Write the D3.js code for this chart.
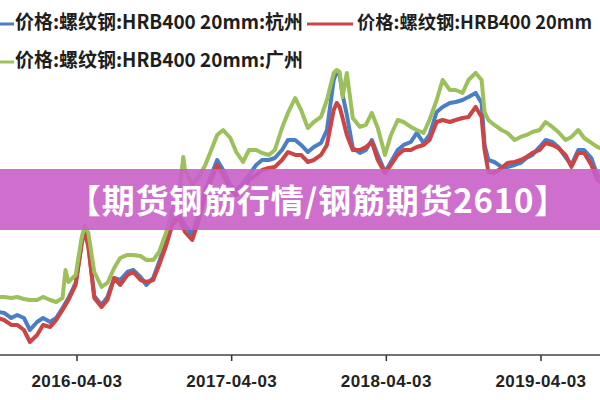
<!DOCTYPE html>
<html><head><meta charset="utf-8">
<script src="https://cdn.jsdelivr.net/npm/d3@7"></script>
<style>
html,body{margin:0;padding:0;background:#fff;}
svg{display:block;}
</style>
</head><body>
<div id="chart"></div>
<script>
// ---- data ----
const dates = ["2015-10-01","2015-10-15","2015-11-01","2015-11-15","2015-12-01","2015-12-15","2016-01-01","2016-01-15","2016-02-01","2016-02-15",
"2016-03-01","2016-03-08","2016-03-15","2016-04-01","2016-04-15","2016-04-22","2016-05-01","2016-05-15","2016-06-01","2016-06-15",
"2016-07-01","2016-07-15","2016-08-01","2016-08-15","2016-09-01","2016-09-15","2016-10-01","2016-10-15","2016-11-01","2016-11-15",
"2016-12-01","2016-12-11","2016-12-15","2017-01-01","2017-01-15","2017-02-01","2017-02-15","2017-03-01","2017-03-15","2017-04-01",
"2017-04-15","2017-05-01","2017-05-15","2017-06-01","2017-06-15","2017-07-01","2017-07-15","2017-08-01","2017-08-15","2017-09-01",
"2017-09-15","2017-10-01","2017-10-15","2017-11-01","2017-11-15","2017-12-01","2017-12-08","2017-12-15","2017-12-22","2018-01-01",
"2018-01-15","2018-02-01","2018-02-15","2018-03-01","2018-03-15","2018-04-01","2018-04-15","2018-05-01","2018-05-15","2018-06-01",
"2018-06-15","2018-07-01","2018-07-15","2018-08-01","2018-08-15","2018-09-01","2018-09-15","2018-10-01","2018-10-15","2018-11-01",
"2018-11-15","2018-11-22","2018-12-01","2018-12-15","2019-01-01","2019-01-15","2019-02-01","2019-02-15","2019-03-01","2019-03-15",
"2019-04-01","2019-04-15","2019-05-01","2019-05-15","2019-06-01","2019-06-15","2019-07-01","2019-07-15","2019-08-01","2019-08-15","2019-09-01"];

// 价格:螺纹钢:HRB400 20mm:杭州
const hangzhou = [2100,2088,2025,2063,2025,1875,1975,2025,1975,2025,
2150,2213,2275,2463,2963,3150,2938,2300,2188,2288,
2525,2500,2600,2625,2538,2438,2525,2725,3000,3250,
3313,3225,3188,3063,3313,3625,3813,4000,3875,3688,
3625,3713,3813,3938,4000,4000,4025,4125,4250,4250,
4188,4100,4163,4213,4375,5000,5100,5063,4813,4563,
4150,4088,4125,4250,4063,3850,3975,4125,4188,4225,
4338,4213,4313,4600,4663,4713,4725,4750,4788,4838,
4713,4188,4000,3975,3913,3913,3938,3963,4025,4063,
4163,4250,4225,4163,4038,3938,4125,4125,4025,3813,3750];

// 价格:螺纹钢:HRB400 20mm (red series)
const redSeries = [2025,2000,1938,1938,1875,1725,1813,1938,1913,2000,
2125,2188,2250,2438,2938,3125,2913,2275,2163,2250,
2525,2438,2563,2600,2500,2475,2500,2688,2938,3188,
3275,3150,3100,3000,3225,3563,3750,3938,3813,3625,
3563,3625,3750,3813,3875,3900,3913,4000,4100,4063,
4063,3975,4000,4063,4188,4625,4713,4663,4525,4313,
4125,4125,4163,4225,4000,3838,3938,4063,4125,4125,
4163,4188,4250,4475,4500,4475,4500,4525,4538,4663,
4538,4125,3850,3838,3900,3963,3975,4000,4038,4088,
4125,4213,4188,4150,4063,3913,4088,4088,3938,3750,3688];

// 价格:螺纹钢:HRB400 20mm:广州
const guangzhou = [2288,2288,2275,2288,2263,2250,2250,2288,2250,2225,
2275,2625,2475,2563,3025,3175,3088,2600,2413,2463,
2650,2775,2813,2813,2800,2750,2750,2850,3100,3375,
3563,4038,3875,3688,3775,3938,4125,4313,4375,4275,
4100,3975,4125,4125,4088,4063,4125,4400,4588,4775,
4625,4400,4475,4538,4750,5088,5125,5100,4788,5088,
4525,4413,4438,4588,4400,4063,4313,4500,4475,4413,
4375,4338,4500,4750,5000,4875,4875,4838,5000,5088,
5000,4600,4500,4438,4375,4338,4250,4288,4313,4350,
4375,4475,4413,4350,4250,4288,4375,4275,4213,4163,4125];

const tickLabels = ["2016-04-03","2017-04-03","2018-04-03","2019-04-03"];
const legendNames = ["价格:螺纹钢:HRB400 20mm:杭州","价格:螺纹钢:HRB400 20mm","价格:螺纹钢:HRB400 20mm:广州"];
const bannerText = "【期货钢筋行情/钢筋期货2610】";

// ---- drawing ----
const W = 600, H = 400;
const parse = d3.timeParse("%Y-%m-%d");
const svg = d3.select("#chart").append("svg").attr("width", W).attr("height", H);

const x = d3.scaleTime()
  .domain([parse(tickLabels[0]), parse(tickLabels[3])])
  .range([76.5, 540.5]);
const y = d3.scaleLinear().domain([1500, 5500]).range([360, 40]);

const colors = ["#4a7ec6", "#cc4444", "#9cc05a"];
const seriesList = [hangzhou, redSeries, guangzhou];

// axis
svg.append("line").attr("x1", 0).attr("x2", W).attr("y1", 355).attr("y2", 355)
  .attr("stroke", "#444").attr("stroke-width", 1.5);
const axis = d3.axisBottom(x)
  .tickValues(tickLabels.map(parse))
  .tickSize(6).tickPadding(10)
  .tickFormat(d3.timeFormat("%Y-%m-%d"));
const gx = svg.append("g").attr("transform", "translate(0,355)").call(axis);
gx.select(".domain").remove();
gx.selectAll(".tick line").attr("stroke", "#333").attr("stroke-width", 1.5);
gx.selectAll(".tick text")
  .attr("y", 32).attr("dy", 0)
  .attr("fill", "#222")
  .style("font-family", "'Liberation Sans', Arial, sans-serif")
  .style("font-weight", "bold").style("font-size", "17px")
  .style("letter-spacing", "0.4px");

// lines
const line = d3.line()
  .x((d, i) => x(parse(dates[i])))
  .y(d => y(d))
  .curve(d3.curveLinear);
const gLines = svg.append("g");
seriesList.forEach((s, k) => {
  gLines.append("path").datum(s)
    .attr("d", line)
    .attr("fill", "none")
    .attr("stroke", colors[k])
    .attr("stroke-width", 4)
    .attr("stroke-linejoin", "round");
});

// legend
const legendFont = "'Noto Sans CJK SC', 'Noto Sans', sans-serif";
const legendItems = [
  {lx1: 0, lx2: 14, ly: 24, tx: 15, ty: 29, len: 288, fs: 19.5, k: 0},
  {lx1: 307, lx2: 353, ly: 24, tx: 357, ty: 29, len: 235, fs: 18.5, k: 1},
  {lx1: 0, lx2: 14, ly: 62, tx: 15, ty: 67, len: 288, fs: 19.5, k: 2}
];
const gLeg = svg.append("g");
legendItems.forEach(it => {
  gLeg.append("line").attr("x1", it.lx1).attr("x2", it.lx2).attr("y1", it.ly).attr("y2", it.ly)
    .attr("stroke", colors[it.k]).attr("stroke-width", 3);
  gLeg.append("text").attr("x", it.tx).attr("y", it.ty)
    .text(legendNames[it.k])
    .attr("fill", "#1e1e1e")
    .attr("textLength", it.len).attr("lengthAdjust", "spacingAndGlyphs")
    .style("font-family", legendFont).style("font-weight", "bold").style("font-size", it.fs + "px");
});

// banner
svg.append("rect").attr("x", 0).attr("y", 169).attr("width", W).attr("height", 61)
  .attr("fill", "#c95fc9").attr("fill-opacity", 0.9);
svg.append("text").attr("x", 318).attr("y", 213)
  .attr("text-anchor", "middle")
  .text(bannerText)
  .attr("fill", "#ffffff")
  .style("font-family", legendFont).style("font-weight", "bold").style("font-size", "33px")
  .style("letter-spacing", "0.8px");
</script>
</body></html>
